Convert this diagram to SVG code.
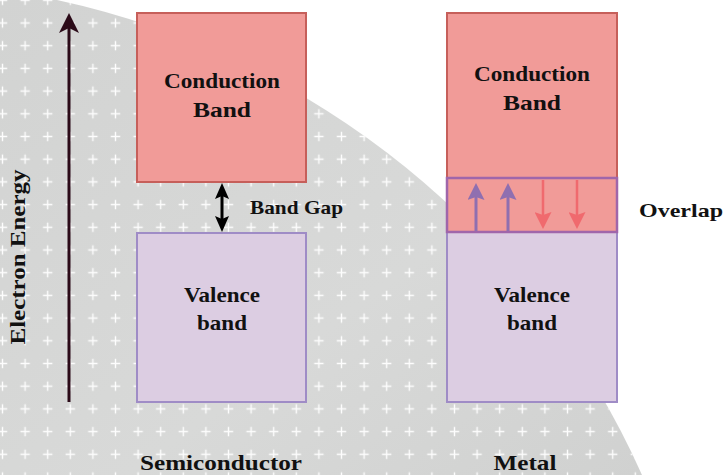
<svg xmlns="http://www.w3.org/2000/svg" width="723" height="475" viewBox="0 0 723 475">
  <style>
    .lbl { font-family: "Liberation Serif", "Times New Roman", serif; font-weight: bold; fill: #111; }
    .cb { fill: #f19b98; stroke: #c65f5a; stroke-width: 2; }
    .vb { fill: #dccde2; stroke: #9f8cc6; stroke-width: 2; }
    .ov { fill: #f19b98; stroke: #a066aa; stroke-width: 2.5; }
  </style>
  <defs>
    <pattern id="plus" patternUnits="userSpaceOnUse" x="-8.8" y="-11.05" width="22.6" height="22.7">
      <path d="M6.6,11.35 H16 M11.3,6.65 V16.05" stroke="#ffffff" stroke-width="1.4" fill="none" opacity="0.95"/>
    </pattern>
    <linearGradient id="bg" x1="0" y1="0" x2="1" y2="1">
      <stop offset="0" stop-color="#d2d3d2"/>
      <stop offset="0.6" stop-color="#d8d9d8"/>
      <stop offset="1" stop-color="#d0d1d0"/>
    </linearGradient>
    <marker id="ahE" viewBox="0 0 20 20" refX="5" refY="10" markerWidth="20" markerHeight="20" markerUnits="userSpaceOnUse" orient="auto">
      <path d="M0,0 L20,10 L0,20 L5,10 z" fill="#2b0a18"/>
    </marker>
    <marker id="ahK" viewBox="0 0 16 14" refX="3" refY="7" markerWidth="16" markerHeight="14" markerUnits="userSpaceOnUse" orient="auto-start-reverse">
      <path d="M0,0 L16,7 L0,14 L3,7 z" fill="#000000"/>
    </marker>
    <marker id="ahP" viewBox="0 0 17 17" refX="3" refY="8.5" markerWidth="17" markerHeight="17" markerUnits="userSpaceOnUse" orient="auto">
      <path d="M0,0 L17,8.5 L0,17 L3,8.5 z" fill="#8f6fb0"/>
    </marker>
    <marker id="ahR" viewBox="0 0 17 17" refX="3" refY="8.5" markerWidth="17" markerHeight="17" markerUnits="userSpaceOnUse" orient="auto">
      <path d="M0,0 L17,8.5 L0,17 L3,8.5 z" fill="#f06a6e"/>
    </marker>
  </defs>

  <rect x="0" y="0" width="723" height="475" fill="#ffffff"/>
  <g id="background">
    <path d="M0,0 L57,0 A834,834 0 0 1 642,475 L0,475 Z" fill="url(#bg)"/>
    <path d="M0,0 L57,0 A834,834 0 0 1 642,475 L0,475 Z" fill="url(#plus)"/>
  </g>

  <g id="semi-conduction">
    <rect class="cb" x="137" y="13" width="169" height="169"/>
    <text class="lbl" x="222" y="88" font-size="21" text-anchor="middle" textLength="116" lengthAdjust="spacingAndGlyphs">Conduction</text>
    <text class="lbl" x="222" y="117" font-size="21" text-anchor="middle" textLength="58" lengthAdjust="spacingAndGlyphs">Band</text>
  </g>
  <g id="semi-valence">
    <rect class="vb" x="137" y="233" width="169" height="169"/>
    <text class="lbl" x="222" y="302" font-size="21" text-anchor="middle" textLength="76" lengthAdjust="spacingAndGlyphs">Valence</text>
    <text class="lbl" x="222" y="330" font-size="21" text-anchor="middle" textLength="50" lengthAdjust="spacingAndGlyphs">band</text>
  </g>

  <g id="metal-conduction">
    <rect class="cb" x="447" y="13" width="170" height="219"/>
    <text class="lbl" x="532" y="81" font-size="21" text-anchor="middle" textLength="116" lengthAdjust="spacingAndGlyphs">Conduction</text>
    <text class="lbl" x="532" y="110" font-size="21" text-anchor="middle" textLength="58" lengthAdjust="spacingAndGlyphs">Band</text>
  </g>
  <g id="metal-valence">
    <rect class="vb" x="447" y="232" width="170" height="170"/>
    <text class="lbl" x="532" y="302" font-size="21" text-anchor="middle" textLength="76" lengthAdjust="spacingAndGlyphs">Valence</text>
    <text class="lbl" x="532" y="330" font-size="21" text-anchor="middle" textLength="50" lengthAdjust="spacingAndGlyphs">band</text>
  </g>
  <g id="overlap">
    <rect class="ov" x="447" y="178" width="170" height="54"/>
  </g>

  <g id="connectors">
    <line x1="69" y1="402" x2="69" y2="28" stroke="#2b0a18" stroke-width="3" marker-end="url(#ahE)"/>
    <line x1="222" y1="196" x2="222" y2="219" stroke="#000" stroke-width="3" marker-start="url(#ahK)" marker-end="url(#ahK)"/>
    <line x1="476" y1="231" x2="476" y2="197" stroke="#8f6fb0" stroke-width="3" marker-end="url(#ahP)"/>
    <line x1="508" y1="231" x2="508" y2="197" stroke="#8f6fb0" stroke-width="3" marker-end="url(#ahP)"/>
    <line x1="543" y1="180" x2="543" y2="215" stroke="#f06a6e" stroke-width="2.5" marker-end="url(#ahR)"/>
    <line x1="577" y1="180" x2="577" y2="215" stroke="#f06a6e" stroke-width="2.5" marker-end="url(#ahR)"/>
  </g>

  <g id="labels">
    <text class="lbl" x="250" y="214" font-size="19" textLength="93" lengthAdjust="spacingAndGlyphs">Band Gap</text>
    <text class="lbl" x="639" y="217" font-size="19" textLength="84" lengthAdjust="spacingAndGlyphs">Overlap</text>
    <text class="lbl" transform="translate(25,257) rotate(-90)" x="0" y="0" font-size="21" text-anchor="middle" textLength="175" lengthAdjust="spacingAndGlyphs">Electron Energy</text>
    <text class="lbl" x="221" y="470" font-size="21" text-anchor="middle" textLength="162" lengthAdjust="spacingAndGlyphs">Semiconductor</text>
    <text class="lbl" x="525" y="470" font-size="21" text-anchor="middle" textLength="63" lengthAdjust="spacingAndGlyphs">Metal</text>
  </g>
</svg>
